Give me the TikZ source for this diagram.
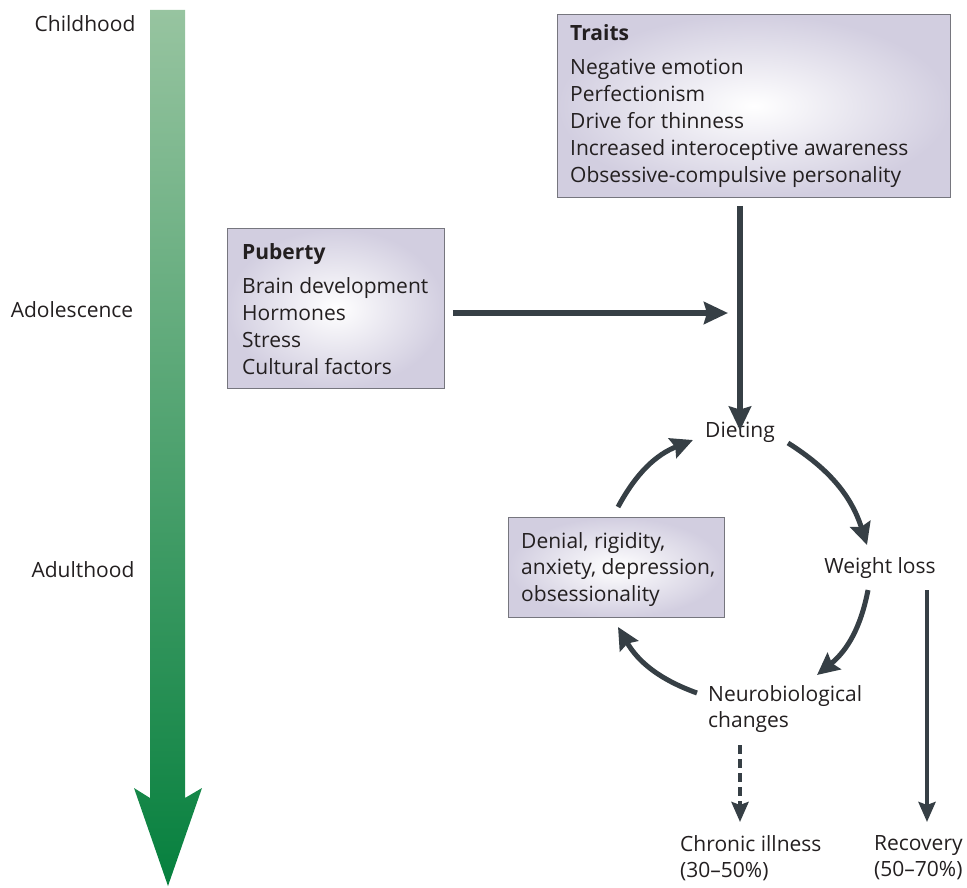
\documentclass[tikz,border=0pt]{standalone}
\usepackage{fontspec}
\setmainfont{Open Sans}
\usetikzlibrary{arrows.meta}
\definecolor{lav}{HTML}{D2CEE0}
\definecolor{arr}{HTML}{363F45}
\definecolor{txt}{HTML}{231F20}
\definecolor{gtop}{HTML}{97C4A0}
\definecolor{gbot}{HTML}{06803E}
\definecolor{boxline}{HTML}{76767E}
\begin{document}
\begin{tikzpicture}[x=1pt,y=-1pt,
  font=\fontsize{21}{26.8}\selectfont, text=txt,
  box/.style={draw=boxline, line width=0.9pt, inner color=white, outer color=lav, rectangle, anchor=north west, inner sep=0pt},
  lbl/.style={inner sep=0pt, anchor=north west, align=left},
  ctr/.style={inner sep=0pt, anchor=center, align=center},
  thick arrow/.style={draw=arr, line width=5.5pt, -{Stealth[length=24pt,width=22pt,inset=3pt]}},
  cyc arrow/.style={draw=arr, line width=5pt, -{Stealth[length=22pt,width=21pt,inset=3pt]}},
  thin arrow/.style={draw=arr, line width=4pt, -{Stealth[length=20pt,width=17pt,inset=3pt]}}]
\useasboundingbox (0,0) rectangle (967,888);

% time arrow
\shade[top color=gtop, bottom color=gbot]
  (150,10) -- (185,10) -- (185,798) -- (202,788) -- (168,886) -- (134,788) -- (150,798) -- cycle;
\node[ctr] (child) at (85,24) {Childhood};
\node[ctr] (adol) at (72,310) {Adolescence};
\node[ctr] (adult) at (83,570) {Adulthood};

% Traits box
\node[box, minimum width=393pt, minimum height=183pt] (traits) at (557,14) {};
\node[lbl] (traitsT) at (570,24) {\textbf{Traits}\\[8pt]Negative emotion\\Perfectionism\\Drive for thinness\\Increased interoceptive awareness\\Obsessive-compulsive personality};

% Puberty box
\node[box, minimum width=217pt, minimum height=160pt] (puberty) at (227,228) {};
\node[lbl] (pubertyT) at (242,243) {\textbf{Puberty}\\[8pt]Brain development\\Hormones\\Stress\\Cultural factors};

% cycle nodes
\node[ctr] (diet) at (740,432) {Dieting};
\node[ctr] (wloss) at (880,568) {Weight loss};
\node[lbl] (neuro) at (708,685) {Neurobiological\\changes};
\node[box, minimum width=216pt, minimum height=100pt] (denial) at (508,517) {};
\node[lbl] (denialT) at (521,532) {Denial, rigidity,\\anxiety, depression,\\obsessionality};

% outcomes
\node[lbl] (chronic) at (680,835) {Chronic illness\\(30--50\%)};
\node[lbl] (recov) at (874,835) {Recovery\\(50--70\%)};

% coordinates for arrow ends
\coordinate (pubEnd) at (728,313);
\draw[thick arrow] (puberty.east |- pubEnd) ++(8,0) -- (pubEnd);
\draw[thick arrow] (traits.south -| diet) ++(0,8) -- ([yshift=-9pt]diet.north);

\draw[cyc arrow] (788,443) to[bend left=20] (867,545);
\draw[cyc arrow] (868,590) to[bend left=20] (817,675);
\draw[cyc arrow] (697,693) to[bend left=20] (618,627);
\draw[cyc arrow] (618,507) to[bend left=20] (693,440);

\draw[thin arrow] (927,590) -- (927,822);
\draw[thin arrow, dashed, dash pattern=on 9pt off 5pt] (740,745) -- (740,822);
\end{tikzpicture}
\end{document}
